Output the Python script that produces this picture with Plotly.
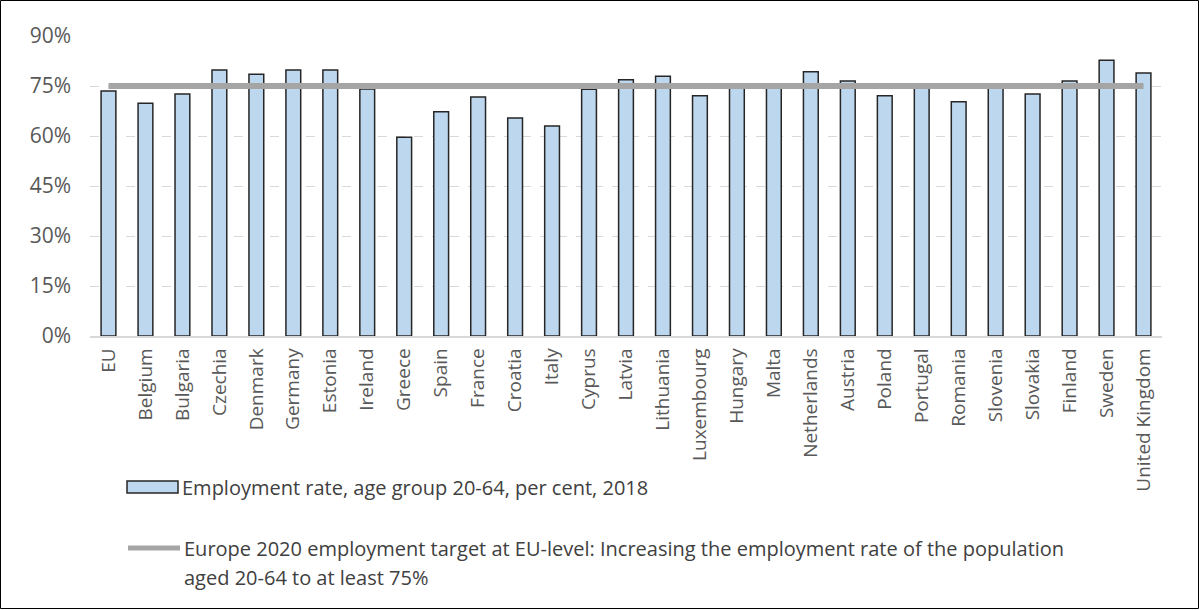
import plotly.graph_objects as go

countries = ["EU", "Belgium", "Bulgaria", "Czechia", "Denmark", "Germany", "Estonia",
             "Ireland", "Greece", "Spain", "France", "Croatia", "Italy", "Cyprus",
             "Latvia", "Lithuania", "Luxembourg", "Hungary", "Malta", "Netherlands",
             "Austria", "Poland", "Portugal", "Romania", "Slovenia", "Slovakia",
             "Finland", "Sweden", "United Kingdom"]
employment_rate = [73.5, 69.8, 72.6, 79.8, 78.5, 79.8, 79.8,
                   74.1, 59.6, 67.3, 71.7, 65.4, 63.0, 74.0,
                   76.9, 77.9, 72.1, 74.4, 75.5, 79.3,
                   76.5, 72.1, 75.4, 70.3, 75.4, 72.6,
                   76.5, 82.7, 78.9]
target = [75.0] * len(countries)
y_ticks = [0, 15, 30, 45, 60, 75, 90]
y_tick_labels = ["0%", "15%", "30%", "45%", "60%", "75%", "90%"]

bar_label = "Employment rate, age group 20-64, per cent, 2018"
line_label_1 = "Europe 2020 employment target at EU-level: Increasing the employment rate of the population"
line_label_2 = "aged 20-64 to at least 75%"

W, H = 1200, 610
ML, MR, MT, MB = 90, 38, 36, 274
PW, PH = W - ML - MR, H - MT - MB
FONT = "Open Sans"
TEXT = "#595959"
LEGEND_TEXT = "#404040"


def px(x):
    return (x - ML) / PW


def py(y):
    return (H - MB - y) / PH


fig = go.Figure()
fig.add_trace(go.Bar(
    x=countries, y=employment_rate, name=bar_label,
    marker=dict(color="#BDD7EE", line=dict(color="#262626", width=1.5)),
    showlegend=False,
))
fig.add_trace(go.Scatter(
    x=countries, y=target, mode="lines", name="target",
    line=dict(color="#A5A5A5", width=6), showlegend=False,
))

shapes = [
    # outer frame
    dict(type="rect", xref="paper", yref="paper",
         x0=px(0.5), x1=px(W - 1.5), y0=py(0.5), y1=py(H - 1.5),
         line=dict(color="#000000", width=1), layer="above"),
    # legend key for bars
    dict(type="rect", xref="paper", yref="paper",
         x0=px(127), x1=px(178), y0=py(481), y1=py(493),
         fillcolor="#BDD7EE", line=dict(color="#262626", width=1.5)),
    # legend key for target line
    dict(type="line", xref="paper", yref="paper",
         x0=px(128), x1=px(180), y0=py(548), y1=py(548),
         line=dict(color="#A5A5A5", width=5)),
]

legend_font = dict(family=FONT, size=20, color=LEGEND_TEXT)
annotations = [
    dict(xref="paper", yref="paper", x=px(180), y=py(487), xanchor="left", yanchor="middle",
         text=bar_label, showarrow=False, font=legend_font),
    dict(xref="paper", yref="paper", x=px(182), y=py(548), xanchor="left", yanchor="middle",
         text=line_label_1, showarrow=False, font=legend_font),
    dict(xref="paper", yref="paper", x=px(182), y=py(577), xanchor="left", yanchor="middle",
         text=line_label_2, showarrow=False, font=legend_font),
]

fig.update_layout(
    width=W, height=H,
    margin=dict(l=ML, r=MR, t=MT, b=MB),
    paper_bgcolor="white", plot_bgcolor="white",
    bargap=0.6,
    font=dict(family=FONT, color=TEXT),
    shapes=shapes, annotations=annotations,
    xaxis=dict(
        tickangle=-90, tickfont=dict(family=FONT, size=19, color=TEXT),
        showgrid=False, showline=True, linecolor="#D9D9D9", linewidth=1.5,
        ticks="", ticklabelstandoff=3,
    ),
    yaxis=dict(
        range=[0, 90], tickvals=y_ticks, ticktext=y_tick_labels,
        tickfont=dict(family=FONT, size=21, color=TEXT),
        showgrid=True, gridcolor="#D9D9D9", griddash="dash", gridwidth=1,
        zeroline=False, showline=False, ticks="", ticklabelstandoff=18,
    ),
)

fig.write_html("out.html")
